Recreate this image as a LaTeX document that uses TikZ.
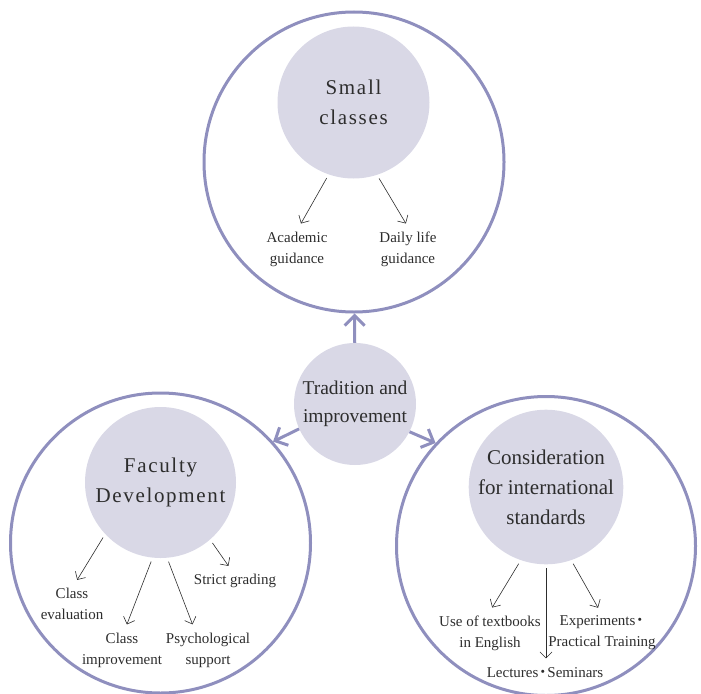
\documentclass[tikz,border=0pt]{standalone}
\usepackage{fontspec}
\setmainfont{Liberation Serif}
\newfontfamily\cjk{Noto Sans CJK JP}
\usetikzlibrary{arrows.meta}
\definecolor{ringblue}{RGB}{143,143,190}
\definecolor{discfill}{RGB}{217,216,230}
\definecolor{txtgray}{RGB}{45,45,45}
\newcommand{\nakaguro}{\kern-3pt{\cjk ・}\kern-3pt}
\tikzset{
  ring/.style={circle,draw=ringblue,line width=3pt,minimum size=#1,inner sep=0pt},
  disc/.style={circle,fill=discfill,minimum size=#1,inner sep=0pt,align=center,text=txtgray},
  head/.style={font=\fontsize{21}{30}\selectfont},
  spaced/.style={font=\fontsize{21}{30}\selectfont\addfontfeature{LetterSpace=8}},
  item/.style={align=center,text=txtgray,font=\fontsize{15}{21}\selectfont,inner sep=1pt},
  bigarrow/.style={draw=ringblue,line width=3pt,-{Straight Barb[length=10pt,width=20pt]}},
  thinarrow/.style={draw=txtgray,line width=0.6pt,-{Straight Barb[length=6pt,width=12pt]},shorten <=4pt,shorten >=8pt}
}
\begin{document}
\begin{tikzpicture}[x=1pt,y=-1pt]
\useasboundingbox (0,0) rectangle (701,693);
\node[ring=300pt] (smallring) at (354,162) {};
\node[ring=300pt] (fdring) at (160.5,543) {};
\node[ring=299pt] (intlring) at (546,546) {};
\node[disc=152pt,spaced] (small) at (353.5,102.5) {Small\\classes};
\node[disc=151pt,spaced] (fd) at (160.5,482.5) {Faculty\\Development};
\node[disc=152pt,head] (intl) at (546,487) {Consideration\\for international\\standards};
\node[disc=122pt,font=\fontsize{19.5}{28}\selectfont] (trad) at (355,404) {Tradition and\\improvement};
\draw[bigarrow] (trad) -- (smallring);
\draw[bigarrow] (trad.204) -- (fdring.42);
\draw[bigarrow] (trad.333) -- (intlring.137);
\node[item] (acad) at (297,249) {Academic\\guidance};
\node[item] (daily) at (408,249) {Daily life\\guidance};
\node[item] (clev) at (72,603.7) {Class\\evaluation};
\node[item] (cimp) at (122,650.4) {Class\\improvement};
\node[item] (psy) at (208,650.4) {Psychological\\support};
\node[item] (strict) at (235,580.5) {Strict grading};
\node[item] (txt) at (490,633) {Use of textbooks\\in English};
\node[item] (exp) at (602,633) {Experiments\nakaguro\\Practical Training};
\node[item] (lec) at (545,672.6) {Lectures\nakaguro Seminars};
\draw[thinarrow] (small.251) -- (acad.north);
\draw[thinarrow] (small.288) -- ([xshift=2pt]daily.north);
\draw[thinarrow] (fd.223.5) -- ([xshift=1pt]clev.north);
\draw[thinarrow] (fd.264.5) -- ([xshift=2pt]cimp.north);
\draw[thinarrow] (fd.275.5) -- ([xshift=-12.6pt]psy.north);
\draw[thinarrow] (fd.311.4) -- ([xshift=-2pt]strict.north);
\draw[thinarrow] (intl.251) -- ([xshift=-2pt]txt.north);
\draw[thinarrow] (intl.270) -- ([xshift=1pt]lec.north);
\draw[thinarrow] (intl.289) -- (exp.north);
\end{tikzpicture}
\end{document}
